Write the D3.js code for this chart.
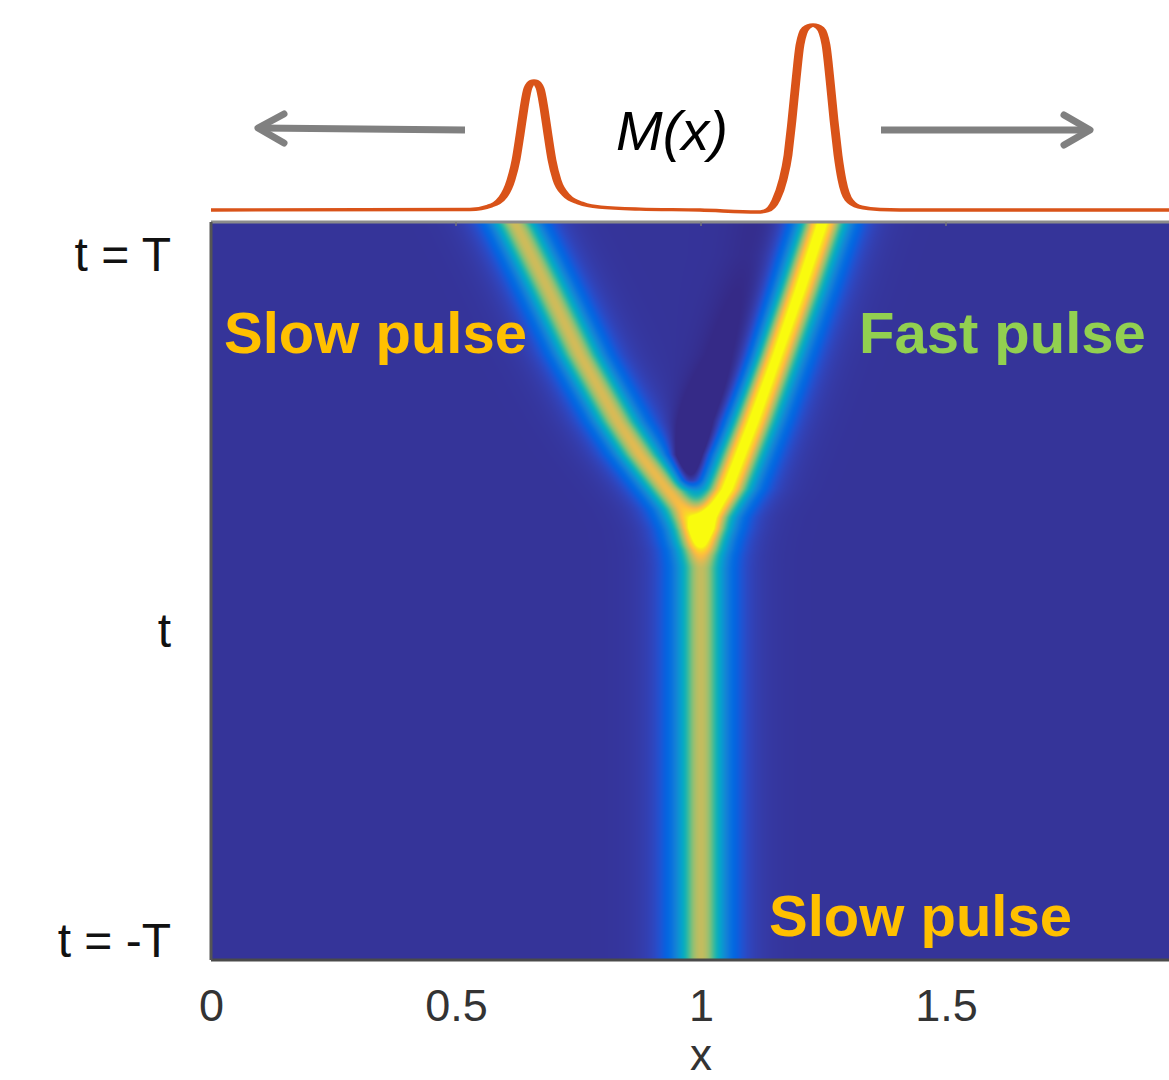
<!DOCTYPE html>
<meta charset="utf-8">
<style>
  body { margin: 0; background: #fff; }
  text { font-family: "Liberation Sans", Arial, sans-serif; }
</style>
<body>
<script src="https://d3js.org/d3.v7.min.js"></script>
<script>

// ---- data (x in axis units, t in [-1, 1] = [-T, T]) ----

// M(x) profile above the map
var mX = [0, 0.5286, 0.5694, 0.5959, 0.6122, 0.6224, 0.6306, 0.6388, 0.6469, 0.6592, 0.6714,
          0.6796, 0.6878, 0.6959, 0.7061, 0.7245, 0.7531, 0.7939, 0.8755, 0.9980, 1.1143,
          1.1327, 1.1531, 1.1673, 1.1776, 1.1857, 1.1939, 1.2020, 1.2143, 1.2286, 1.2429,
          1.2551, 1.2633, 1.2714, 1.2796, 1.2878, 1.3020, 1.3245, 1.3653, 1.4469, 2.0];
var mVal = [0, 0.003, 0.022, 0.070, 0.162, 0.270, 0.405, 0.551, 0.659, 0.697, 0.659,
            0.551, 0.405, 0.270, 0.162, 0.081, 0.038, 0.016, 0.005, 0, -0.011,
            -0.005, 0.054, 0.162, 0.297, 0.486, 0.703, 0.892, 0.984, 1.0, 0.984,
            0.892, 0.703, 0.486, 0.297, 0.162, 0.054, 0.016, 0.003, 0, 0];

// slow pulse: trunk, then left branch
var slowT = [-1, 0.070, 0.111, 0.165, 0.222, 0.276, 0.369, 0.458, 0.640, 0.818, 0.981, 1];
var slowX = [1.0, 1.0, 0.998, 0.986, 0.963, 0.931, 0.876, 0.831, 0.753, 0.688, 0.627, 0.619];
var slowA = [0.72, 0.72, 0.72, 0.76, 0.80, 0.80, 0.78, 0.76, 0.75, 0.74, 0.74, 0.74];
var slowW = [0.0316, 0.0316, 0.031, 0.030, 0.030, 0.030, 0.030, 0.030, 0.030, 0.030, 0.030, 0.030];

// fast pulse: right branch
var fastT = [0.06, 0.097, 0.125, 0.17, 0.20, 0.276, 0.458, 0.640, 0.818, 0.981, 1];
var fastX = [1.0, 1.002, 1.004, 1.009, 1.016, 1.053, 1.106, 1.155, 1.202, 1.243, 1.247];
var fastA = [0, 0.3, 0.6, 1.0, 1.05, 1.05, 1.05, 1.05, 1.05, 1.05, 1.05];

// darker, depleted zone between the branches
var dipT = [0.27, 0.30, 0.37, 0.46, 0.64, 0.91, 1];
var dipX = [0.975, 0.975, 0.975, 1.0, 1.069, 1.12, 1.131];
var dipD = [0, 0.2, 0.28, 0.16, 0.1, 0.04, 0.035];
var dipW = [0.02, 0.02, 0.025, 0.035, 0.045, 0.045, 0.045];

var xTicks = [0, 0.5, 1, 1.5];
var tTickVals = [0.913, -0.106, -0.946];
var tTickLabels = ["t = T", "t", "t = -T"];

// parula colour stops
var parula = ["#352a87", "#36379f", "#3243ba", "#2053d4", "#0363e1", "#046de0", "#1079da",
  "#1485d4", "#0c93d2", "#06a0cd", "#07a9c2", "#15b1b4", "#2eb7a4", "#4dbc92", "#71bf80",
  "#92bf73", "#aebe67", "#c8bc5d", "#e1b952", "#f8ba44", "#ffc337", "#fad32a", "#f5e41d", "#f9fb0e"];

// ---- layout ----
var W = 1169, H = 1080;
var x = d3.scaleLinear().domain([0, 2]).range([211, 1191]);
var t = d3.scaleLinear().domain([-1, 1]).range([960, 222]);
var bg = 0.032;

var color = d3.scaleSequential(d3.interpolateRgbBasis(parula)).domain([0, 1]).clamp(true);

var svg = d3.select("body").append("svg")
  .attr("width", W).attr("height", H);

// ---- heat map ----
function track(ts, vs) { return d3.scaleLinear().domain(ts).range(vs).clamp(true); }
var sX = track(slowT, slowX), sA = track(slowT, slowA), sW = track(slowT, slowW);
var fX = track(fastT, fastX), fA = track(fastT, fastA);
var dX = track(dipT, dipX), dD = track(dipT, dipD), dW = track(dipT, dipW);
var wFastL = 0.027, wFastR = 0.030;

function sech(u) { u = Math.abs(u); return 2 * Math.exp(-u) / (1 + Math.exp(-2 * u)); }

var x0 = x(0), y0 = t(1);
var cw = Math.round(x(2) - x0), ch = Math.round(t(-1) - y0);
var canvas = document.createElement("canvas");
canvas.width = cw; canvas.height = ch;
var ctx = canvas.getContext("2d");
var img = ctx.createImageData(cw, ch);
for (var py = 0; py < ch; py++) {
  var tv = t.invert(y0 + py + 0.5);
  var cs = sX(tv), as = sA(tv), ws = sW(tv), cf = fX(tv), af = fA(tv);
  var cd = dX(tv), dd = dD(tv), wd = dW(tv);
  for (var px = 0; px < cw; px++) {
    var xv = x.invert(x0 + px + 0.5);
    var a = as * sech((xv - cs) / ws);
    var df = xv - cf;
    var b = af * sech(df / (df < 0 ? wFastL : wFastR));
    var c = Math.pow(Math.pow(a, 1.5) + Math.pow(b, 1.5), 1 / 1.5);
    var u = (xv - cd) / wd;
    var v = bg + (1 - bg) * c - dd * Math.exp(-u * u / 2);
    var col = d3.rgb(color(v));
    var k = (py * cw + px) * 4;
    img.data[k] = col.r; img.data[k + 1] = col.g; img.data[k + 2] = col.b; img.data[k + 3] = 255;
  }
}
ctx.putImageData(img, 0, 0);

svg.append("image")
  .attr("x", x0).attr("y", y0)
  .attr("width", cw).attr("height", ch)
  .attr("preserveAspectRatio", "none")
  .attr("href", canvas.toDataURL());

// frame
svg.append("line").attr("x1", x0).attr("x2", W).attr("y1", y0).attr("y2", y0)
  .attr("stroke", "#8c8c8c").attr("stroke-width", 3);
svg.append("line").attr("x1", x0).attr("x2", W).attr("y1", t(-1)).attr("y2", t(-1))
  .attr("stroke", "#4a4a4a").attr("stroke-width", 3);
svg.append("line").attr("x1", x0).attr("x2", x0).attr("y1", y0).attr("y2", t(-1))
  .attr("stroke", "#555").attr("stroke-width", 3);

// inward ticks on the top edge
svg.selectAll(".ttick").data(xTicks.slice(1)).enter().append("line")
  .attr("x1", d => x(d)).attr("x2", d => x(d))
  .attr("y1", y0).attr("y2", y0 + 4)
  .attr("stroke", "#777").attr("stroke-width", 1.5);

// x axis labels
var xAxis = svg.append("g")
  .attr("transform", "translate(0," + t(-1) + ")")
  .call(d3.axisBottom(x).tickValues(xTicks).tickFormat(d3.format("")).tickSize(0).tickPadding(29));
xAxis.select(".domain").remove();
xAxis.selectAll("text").attr("font-size", 45).attr("fill", "#333")
  .attr("font-family", "'Liberation Sans', Arial, sans-serif");

svg.append("text").attr("x", x(1)).attr("y", 1070)
  .attr("text-anchor", "middle").attr("font-size", 44).attr("fill", "#333").text("x");

// t labels
svg.selectAll(".tlab").data(tTickVals).enter().append("text")
  .attr("x", 171).attr("y", d => t(d)).attr("dy", "0.35em")
  .attr("text-anchor", "end").attr("font-size", 48).attr("fill", "#111")
  .text((d, i) => tTickLabels[i]);

// annotations
svg.append("text").attr("x", 224).attr("y", 353)
  .attr("font-size", 58).attr("font-weight", "bold").attr("fill", "#ffc000").text("Slow pulse");
svg.append("text").attr("x", 859).attr("y", 353)
  .attr("font-size", 58).attr("font-weight", "bold").attr("fill", "#92d050").text("Fast pulse");
svg.append("text").attr("x", 769).attr("y", 936)
  .attr("font-size", 58).attr("font-weight", "bold").attr("fill", "#ffc000").text("Slow pulse");

// ---- M(x) curve (drawn compressed, then stretched horizontally) ----
var kx = 2.6;
var xm = d3.scaleLinear().domain([0, 2]).range([x(0) / kx, x(2) / kx]);
var ym = d3.scaleLinear().domain([0, 1]).range([210, 25]);
var mLine = d3.line().x((d, i) => xm(mX[i])).y(d => ym(d)).curve(d3.curveMonotoneX);
svg.append("g").attr("transform", "scale(" + kx + ",1)")
  .append("path").datum(mVal)
  .attr("d", mLine)
  .attr("fill", "none").attr("stroke", "#d95319").attr("stroke-width", 3.4)
  .attr("stroke-linejoin", "round");

svg.append("text").attr("x", 672).attr("y", 150)
  .attr("text-anchor", "middle").attr("font-size", 56).attr("font-style", "italic")
  .attr("fill", "#000").text("M(x)");

// arrows
var arrow = svg.append("g").attr("stroke", "#808080").attr("stroke-width", 7).attr("fill", "none")
  .attr("stroke-linecap", "round").attr("stroke-linejoin", "round");
arrow.append("path").attr("d", "M465,130L260,128").attr("stroke-linecap", "butt");
arrow.append("path").attr("d", "M284,114L258,128L284,143");
arrow.append("path").attr("d", "M881,130L1088,130").attr("stroke-linecap", "butt");
arrow.append("path").attr("d", "M1064,115L1090,130L1064,145");

</script>
</body>
